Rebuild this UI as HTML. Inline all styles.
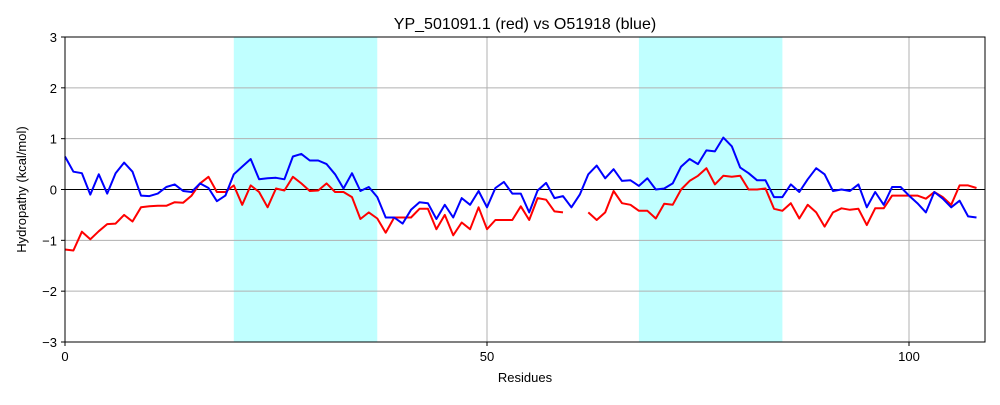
<!DOCTYPE html>
<html><head><meta charset="utf-8"><style>
body{margin:0;background:#fff}
svg text{font-family:"Liberation Sans","DejaVu Sans",sans-serif;fill:#000}
</style></head><body>
<svg id="chart" width="1000" height="400" xmlns="http://www.w3.org/2000/svg">
<rect width="1000" height="400" fill="#fff"/>
<g id="bands"></g><g id="grid"></g><g id="series"></g><g id="axes"></g>
</svg>
<script>
const xTicks=[0,50,100];
const yTicks=[-3,-2,-1,0,1,2,3];
const bands=[[20,37],[68,85]];
const blueVals=[0.65,0.35,0.32,-0.1,0.3,-0.08,0.32,0.53,0.35,-0.12,-0.13,-0.08,0.05,0.1,-0.03,-0.05,0.12,0.03,-0.23,-0.12,0.3,0.45,0.6,0.2,0.22,0.23,0.2,0.65,0.7,0.57,0.57,0.5,0.3,0.02,0.32,-0.03,0.05,-0.15,-0.55,-0.55,-0.67,-0.4,-0.25,-0.27,-0.58,-0.3,-0.55,-0.17,-0.3,-0.03,-0.35,0.03,0.15,-0.08,-0.08,-0.45,-0.02,0.13,-0.17,-0.13,-0.35,-0.1,0.3,0.47,0.22,0.4,0.17,0.18,0.07,0.22,0.0,0.02,0.12,0.45,0.6,0.5,0.77,0.75,1.02,0.85,0.43,0.32,0.18,0.18,-0.15,-0.15,0.1,-0.05,0.2,0.42,0.3,-0.03,0.0,-0.03,0.1,-0.35,-0.05,-0.3,0.05,0.05,-0.12,-0.27,-0.45,-0.05,-0.18,-0.35,-0.22,-0.53,-0.55];
const redVals=[-1.18,-1.2,-0.83,-0.98,-0.82,-0.68,-0.67,-0.5,-0.63,-0.35,-0.33,-0.32,-0.32,-0.25,-0.26,-0.12,0.12,0.25,-0.05,-0.05,0.08,-0.3,0.08,-0.05,-0.35,0.02,-0.02,0.25,0.12,-0.03,-0.02,0.12,-0.05,-0.05,-0.15,-0.58,-0.45,-0.57,-0.85,-0.55,-0.55,-0.55,-0.38,-0.38,-0.78,-0.5,-0.9,-0.65,-0.78,-0.35,-0.78,-0.6,-0.6,-0.6,-0.33,-0.6,-0.17,-0.2,-0.43,-0.45,null,null,-0.45,-0.6,-0.45,-0.03,-0.27,-0.3,-0.42,-0.42,-0.57,-0.28,-0.3,0.0,0.17,0.27,0.42,0.1,0.27,0.25,0.27,0.0,0.0,0.02,-0.38,-0.42,-0.27,-0.57,-0.3,-0.45,-0.73,-0.45,-0.37,-0.4,-0.38,-0.7,-0.37,-0.37,-0.12,-0.12,-0.12,-0.12,-0.18,-0.05,-0.15,-0.3,0.08,0.08,0.03];
const L=65,R=985,T=37,B=342,XMAX=(R-L)/8.44;
const sx=v=>L+v*8.44, sy=v=>T+(3-v)*(B-T)/6;
const NS="http://www.w3.org/2000/svg";
function mk(p,tag,at){const e=document.createElementNS(NS,tag);for(const k in at)e.setAttribute(k,at[k]);p.appendChild(e);return e;}
const gB=document.getElementById('bands'),gG=document.getElementById('grid'),gS=document.getElementById('series'),gA=document.getElementById('axes');
bands.forEach((b,i)=>{const r=mk(gB,'rect',{x:sx(b[0]),y:T,width:sx(b[1])-sx(b[0]),height:B-T,fill:'#c0ffff'});

});
yTicks.forEach(t=>{const l=mk(gG,'line',{x1:L,x2:R,y1:sy(t),y2:sy(t),stroke:'#b0b0b0','stroke-width':1});


const tk=mk(gA,'line',{x1:L-4,x2:L,y1:sy(t),y2:sy(t),stroke:'#000'});


const tx=mk(gA,'text',{x:L-8,y:sy(t)+5,'text-anchor':'end','font-size':13});tx.textContent=(t<0?'\u2212'+(-t):t);

});
xTicks.forEach(t=>{const l=mk(gG,'line',{x1:sx(t),x2:sx(t),y1:T,y2:B,stroke:'#b0b0b0','stroke-width':1});


const tk=mk(gA,'line',{x1:sx(t),x2:sx(t),y1:B,y2:B+4,stroke:'#000'});


const tx=mk(gA,'text',{x:sx(t),y:B+19,'text-anchor':'middle','font-size':13});tx.textContent=t;

});
const z=mk(gG,'line',{x1:L,x2:R,y1:sy(0),y2:sy(0),stroke:'#000','stroke-width':1});


function path(vals,color,name){let d='',pen=false;vals.forEach((v,i)=>{if(v===null){pen=false;return;}d+=(pen?'L':'M')+sx(i).toFixed(1)+' '+sy(v).toFixed(1);pen=true;});
const p=mk(gS,'path',{d:d,fill:'none',stroke:color,'stroke-width':2,'stroke-linejoin':'round'});

}
path(redVals,'#ff0000','red-series-line');
path(blueVals,'#0000ff','blue-series-line');
const fr=mk(gA,'rect',{x:L,y:T,width:R-L,height:B-T,fill:'none',stroke:'#000','stroke-width':1});


const ti=mk(gA,'text',{x:(L+R)/2,y:29,'text-anchor':'middle','font-size':16});ti.textContent='YP_501091.1 (red) vs O51918 (blue)';


const xl=mk(gA,'text',{x:(L+R)/2,y:382,'text-anchor':'middle','font-size':13});xl.textContent='Residues';


const yl=mk(gA,'text',{x:0,y:0,'text-anchor':'middle','font-size':13,transform:'translate(26,'+((T+B)/2)+') rotate(-90)'});yl.textContent='Hydropathy (kcal/mol)';


</script>
</body></html>
